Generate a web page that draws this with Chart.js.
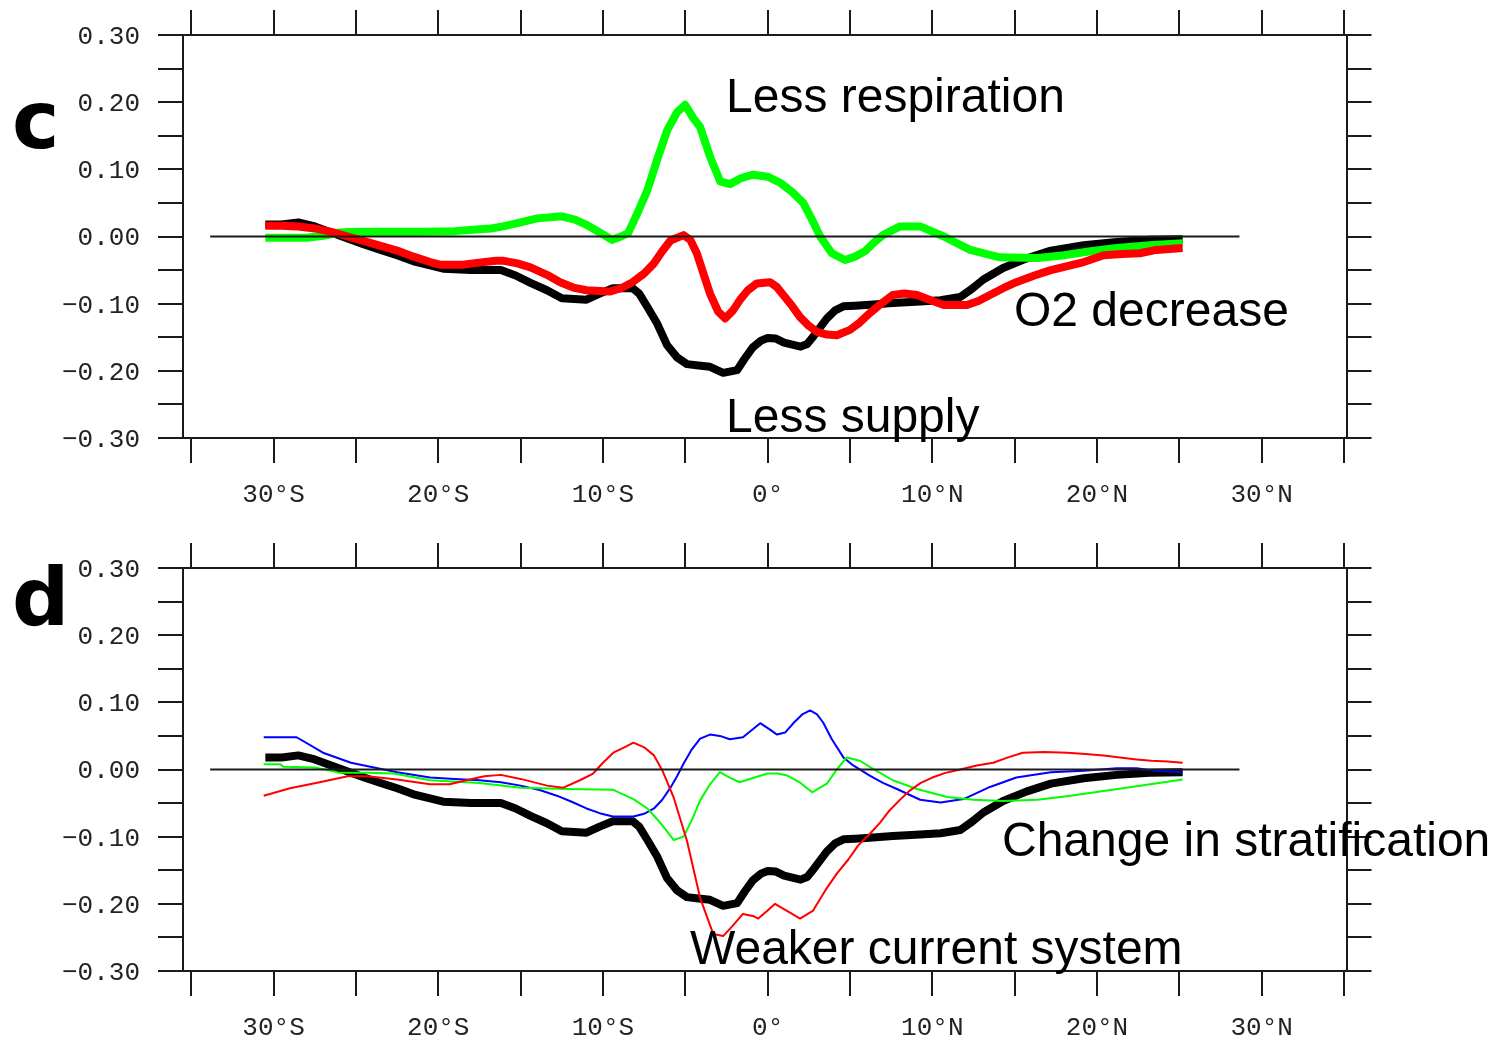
<!DOCTYPE html>
<html><head><meta charset="utf-8">
<script src="https://cdn.jsdelivr.net/npm/chart.js@4.4.1/dist/chart.umd.min.js"></script>
<style>
html,body{margin:0;padding:0;background:#fff;width:1499px;height:1043px;overflow:hidden;position:relative}
canvas{position:absolute;left:0}
#cc{top:0}
#cd{top:533px}
.lab{position:absolute;font-family:"Liberation Sans",Arial,sans-serif;font-size:48px;line-height:48px;color:#000;white-space:nowrap}
.pan{position:absolute;font-family:"DejaVu Sans",sans-serif;font-weight:bold;font-size:80px;line-height:80px;color:#000}
</style></head><body>
<canvas id="cc" width="1499" height="510"></canvas>
<canvas id="cd" width="1499" height="510"></canvas>
<div class="pan" style="left:12px;top:81px">c</div>
<div class="pan" style="left:12px;top:558px">d</div>
<div class="lab" style="left:726px;top:72px">Less respiration</div>
<div class="lab" style="left:1014px;top:286px">O2 decrease</div>
<div class="lab" style="left:726px;top:392px">Less supply</div>
<div class="lab" style="left:1002px;top:816px">Change in stratification</div>
<div class="lab" style="left:690px;top:924px">Weaker current system</div>
<script>
// ---- axis ticks ----
const xTickValues = [-35,-30,-25,-20,-15,-10,-5,0,5,10,15,20,25,30,35];
const xTickLabels = ['','30°S','','20°S','','10°S','','0°','','10°N','','20°N','','30°N',''];
const yTickValues = [-0.30,-0.25,-0.20,-0.15,-0.10,-0.05,0,0.05,0.10,0.15,0.20,0.25,0.30];
const yTickLabels = ['−0.30','','−0.20','','−0.10','','0.00','','0.10','','0.20','','0.30'];
const xRange = [-35.5, 35.15];
const yRange = [-0.30, 0.30];
const zeroLat = [-33.85, 28.65];
const zeroVal = [0, 0];

// ---- panel c / d black: total O2 change ----
const totalLat = [-30.5,-29.5,-28.5,-27.5,-26.5,-25.5,-24.5,-23.5,-22.5,-21.5,-20.5,-19.7,-18,-16.2,-15.3,-14.4,-13.4,-12.5,-11,-10.2,-9.4,-8.2,-7.8,-7.3,-6.7,-6.1,-5.5,-4.9,-4.2,-3.5,-2.7,-1.85,-1.4,-0.9,-0.4,0,0.5,1,2,2.4,2.8,3.2,3.6,4.1,4.6,5.3,6,7.6,9,10.5,11.7,12.4,13.1,14.3,15.7,17.2,19.2,21.2,23.2,25.2];
const totalVal = [0.018,0.018,0.021,0.015,0.006,-0.003,-0.012,-0.02,-0.028,-0.037,-0.043,-0.048,-0.05,-0.05,-0.058,-0.069,-0.08,-0.092,-0.094,-0.085,-0.077,-0.077,-0.085,-0.105,-0.13,-0.162,-0.18,-0.19,-0.192,-0.194,-0.203,-0.199,-0.182,-0.165,-0.155,-0.151,-0.152,-0.158,-0.164,-0.16,-0.148,-0.135,-0.122,-0.11,-0.104,-0.103,-0.102,-0.099,-0.097,-0.095,-0.09,-0.078,-0.064,-0.047,-0.033,-0.021,-0.013,-0.008,-0.005,-0.004];

// ---- panel c red: less supply ----
const supplyLat = [-30.5,-29.5,-28.5,-27.5,-26.5,-25.5,-24.5,-23.5,-22.5,-21.5,-20.5,-19.9,-18.5,-17.9,-16.5,-16.1,-15.2,-14.4,-13.4,-12.6,-11.8,-11,-9.6,-8.9,-8.2,-7.5,-6.9,-6.4,-5.9,-5.1,-4.7,-4.3,-3.9,-3.5,-3.0,-2.58,-2.1,-1.67,-1.2,-0.66,0.15,0.55,0.95,1.5,1.97,2.5,3.0,3.6,4.2,5.0,5.6,6.2,6.9,7.6,8.3,9.07,9.9,10.7,12.1,12.8,13.5,14.3,15.1,16.2,17.2,18.2,19.2,20.4,21.5,22.6,23.6,25.2];
const supplyVal = [0.016,0.016,0.015,0.012,0.007,0.0,-0.007,-0.014,-0.021,-0.03,-0.038,-0.042,-0.042,-0.04,-0.036,-0.036,-0.04,-0.046,-0.057,-0.068,-0.076,-0.08,-0.082,-0.077,-0.068,-0.055,-0.04,-0.022,-0.006,0.002,-0.005,-0.025,-0.055,-0.085,-0.112,-0.122,-0.11,-0.094,-0.08,-0.07,-0.068,-0.075,-0.087,-0.104,-0.12,-0.133,-0.142,-0.146,-0.147,-0.139,-0.128,-0.114,-0.1,-0.087,-0.085,-0.087,-0.095,-0.102,-0.102,-0.096,-0.087,-0.077,-0.068,-0.058,-0.05,-0.044,-0.038,-0.028,-0.026,-0.025,-0.02,-0.017];

// ---- panel c green: less respiration ----
const respLat = [-30.5,-29,-28,-27,-26,-25,-23.5,-21,-19,-17.9,-16.8,-16.06,-15,-14,-12.5,-11.7,-10.96,-10.2,-9.44,-8.9,-8.47,-7.9,-7.3,-6.7,-6.1,-5.5,-5.01,-4.5,-4.1,-3.5,-2.88,-2.28,-1.6,-0.88,0,0.76,1.5,2.16,2.7,3.19,3.9,4.7,5.3,5.9,6.5,7.0,8.04,9.26,10.7,11.5,12.3,14.1,16.4,18.0,19.6,21.2,23.2,25.2];
const respVal = [-0.002,-0.002,-0.002,0.001,0.006,0.007,0.007,0.007,0.008,0.01,0.012,0.015,0.021,0.027,0.03,0.025,0.017,0.006,-0.005,0.0,0.005,0.035,0.069,0.115,0.158,0.185,0.196,0.176,0.163,0.119,0.082,0.078,0.087,0.092,0.089,0.08,0.066,0.05,0.025,0.0,-0.025,-0.035,-0.03,-0.022,-0.008,0.002,0.015,0.015,0.0,-0.01,-0.02,-0.031,-0.032,-0.028,-0.022,-0.017,-0.013,-0.01];

// ---- panel d red: weaker current system ----
const currentLat = [-30.6,-29,-27.2,-25.5,-24.3,-22.5,-20.5,-19.3,-18.3,-17.2,-16.2,-15,-13.4,-12.4,-11.4,-10.6,-10,-9.37,-8.7,-8.15,-7.5,-6.9,-6.4,-5.7,-4.9,-4.1,-3.3,-2.7,-2.1,-1.5,-0.9,-0.57,0,0.45,1.2,1.97,2.76,3.5,4.2,4.9,5.5,6.2,6.83,7.4,8,8.65,9.3,10,10.8,11.7,12.7,13.7,14.6,15.5,16.8,18.2,19.3,20.4,21.4,22.4,23.3,24.3,25.2];
const currentVal = [-0.039,-0.028,-0.019,-0.01,-0.01,-0.015,-0.022,-0.022,-0.016,-0.01,-0.008,-0.014,-0.024,-0.027,-0.016,-0.006,0.01,0.025,0.033,0.04,0.033,0.021,-0.001,-0.042,-0.106,-0.191,-0.245,-0.248,-0.232,-0.215,-0.218,-0.222,-0.21,-0.2,-0.211,-0.222,-0.21,-0.18,-0.155,-0.134,-0.113,-0.096,-0.079,-0.061,-0.046,-0.031,-0.02,-0.012,-0.005,0.0,0.006,0.01,0.018,0.025,0.026,0.025,0.023,0.021,0.018,0.015,0.013,0.012,0.01];

// ---- panel d blue ----
const blueLat = [-30.6,-28.6,-27,-25.3,-23.9,-22.5,-20.5,-19,-17.5,-16.2,-15,-13.8,-12.8,-11.9,-11,-10.2,-9.4,-8.15,-7.5,-6.9,-6.4,-5.9,-5.5,-5.1,-4.6,-4.1,-3.5,-2.9,-2.3,-1.5,-0.9,-0.45,0.1,0.57,1.06,1.6,2.1,2.58,3.0,3.37,3.9,4.6,5.2,6.2,7.0,7.85,9.26,10.5,11.9,13.5,15.1,17.2,19.2,21.2,22.4,23.5,25.2];
const blueVal = [0.048,0.048,0.025,0.01,0.003,-0.004,-0.012,-0.014,-0.016,-0.019,-0.024,-0.031,-0.039,-0.048,-0.058,-0.065,-0.07,-0.07,-0.066,-0.058,-0.045,-0.027,-0.01,0.009,0.03,0.046,0.052,0.05,0.045,0.048,0.06,0.069,0.06,0.052,0.055,0.07,0.082,0.088,0.082,0.07,0.045,0.018,0.006,-0.009,-0.02,-0.029,-0.045,-0.049,-0.044,-0.026,-0.012,-0.004,-0.002,0.002,0.002,-0.002,-0.004];

// ---- panel d green ----
const greenLat = [-30.6,-29.6,-29.4,-27.5,-26.5,-26,-24.3,-22.7,-20.5,-17.5,-15,-12.2,-9.4,-8.15,-7.3,-6.5,-5.7,-5.1,-4.6,-4.1,-3.5,-2.9,-2.3,-1.7,-0.8,0,0.6,1.2,2.0,2.7,3.6,4.2,4.8,5.6,6.4,7.6,9.07,10.9,12.5,14.3,16.4,18.4,20.4,22.4,25.2];
const greenVal = [0.008,0.008,0.004,0.003,-0.002,-0.005,-0.005,-0.006,-0.016,-0.02,-0.027,-0.029,-0.03,-0.044,-0.058,-0.08,-0.105,-0.1,-0.075,-0.046,-0.022,-0.004,-0.012,-0.019,-0.012,-0.006,-0.006,-0.009,-0.02,-0.034,-0.021,0.0,0.018,0.013,0.001,-0.016,-0.029,-0.041,-0.045,-0.047,-0.045,-0.039,-0.032,-0.025,-0.015];

// ---- layout constants (chart area box) ----
const W = 1499, H = 510;
const AREA = {left:183, right:1346.5, top:35, bottom:438};
const FRAME = '#1a1a1a';

function pts(lat, val){ const n=Math.min(lat.length,val.length); const o=[]; for(let i=0;i<n;i++) o.push({x:lat[i],y:val[i]}); return o; }

function axis(pos){
  const isX = (pos==='top'||pos==='bottom');
  const vals = isX ? xTickValues : yTickValues;
  const labs = isX ? xTickLabels : yTickLabels;
  const showLabels = (pos==='bottom'||pos==='left');
  const r = isX ? xRange : yRange;
  return {
    type:'linear', position:pos, min:r[0], max:r[1],
    afterBuildTicks: s => { s.ticks = vals.map(v => ({value:v})); },
    afterFit: s => {
      if (pos==='left') s.width = AREA.left;
      else if (pos==='right') s.width = W - AREA.right;
      else if (pos==='top') s.height = AREA.top;
      else s.height = H - AREA.bottom;
    },
    grid:{drawOnChartArea:false, drawTicks:true, tickLength:25, color:FRAME, lineWidth:2},
    border:{display:true, color:FRAME, width:2},
    ticks:{
      display:showLabels, autoSkip:false, maxRotation:0, minRotation:0,
      padding: isX ? 17 : 18, labelOffset: isX ? 0 : 2, color:'#222',
      font:{family:'"Liberation Mono", "DejaVu Sans Mono", monospace', size:26},
      callback: v => { const i = vals.findIndex(t => Math.abs(t - v) < 1e-9); return showLabels && i >= 0 ? labs[i] : ''; }
    }
  };
}

function line(lat, val, color, width, order){
  return {data:pts(lat,val), borderColor:color, borderWidth:width, pointRadius:0, pointHoverRadius:0,
          tension:0, fill:false, order:order, borderJoinStyle:'round', borderCapStyle:'butt',
          xAxisID:'x', yAxisID:'y'};
}

function make(id, datasets){
  new Chart(document.getElementById(id), {
    type:'line',
    data:{datasets:datasets},
    options:{
      responsive:false, maintainAspectRatio:false, animation:false, events:[],
      layout:{padding:0},
      plugins:{legend:{display:false}, tooltip:{enabled:false}},
      scales:{ x:axis('bottom'), x2:axis('top'), y:axis('left'), y2:axis('right') }
    }
  });
}

make('cc', [
  line(zeroLat, zeroVal, FRAME, 2, 0),
  line(supplyLat, supplyVal, '#ff0000', 8, 1),
  line(respLat, respVal, '#00ff00', 8, 2),
  line(totalLat, totalVal, '#000000', 8, 3)
]);

make('cd', [
  line(zeroLat, zeroVal, FRAME, 2, 0),
  line(currentLat, currentVal, '#ff0000', 2, 1),
  line(greenLat, greenVal, '#00ff00', 2, 2),
  line(blueLat, blueVal, '#0000ff', 2, 3),
  line(totalLat, totalVal, '#000000', 8, 4)
]);
</script>
</body></html>
